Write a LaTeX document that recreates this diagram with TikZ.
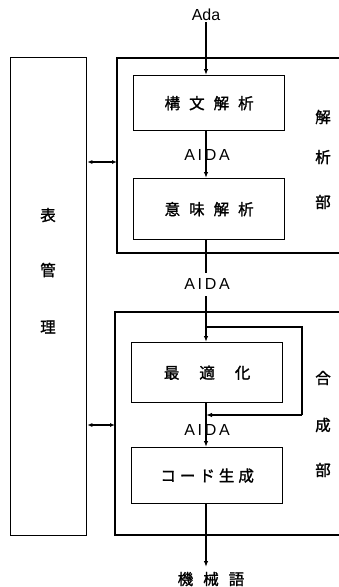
\documentclass[tikz,border=0pt]{standalone}
\usepackage{fontspec}
\setmainfont{Liberation Sans}
\newfontfamily\jp{Noto Sans CJK JP}[FakeBold=1.5]
\usetikzlibrary{arrows.meta}
\tikzset{
  x=1pt, y=-1pt,
  line/.style={line width=1.3pt},
  arr/.style={line, -{Latex[length=6pt,width=4.5pt]}},
  darr/.style={line, {Latex[length=5pt,width=4pt]}-{Latex[length=5pt,width=4pt]}},
  proc/.style={draw, line width=1.3pt, minimum width=151pt, inner sep=0pt, font=\jp\fontsize{15.5}{15.5}\selectfont},
  lat/.style={font=\fontsize{16}{16}\selectfont, inner sep=1pt},
  jpl/.style={font=\jp\fontsize{15.5}{15.5}\selectfont, inner sep=1pt},
}
\newcommand{\gp}{\hspace{9pt}}
\begin{document}
\begin{tikzpicture}
\useasboundingbox (0,0) rectangle (339,587);
% left box
\node[draw, line width=1.3pt, minimum width=76pt, minimum height=478pt, inner sep=0pt, anchor=north west] (tbl) at (10,57) {};
\node[jpl] (t1) at (48,215) {表};
\node[jpl] (t2) at (48,270) {管};
\node[jpl] (t3) at (48,327) {理};
% upper outer box
\draw[line] (339,58) -- (117,58) -- (117,253) -- (339,253);
\coordinate (ua) at (117,162);
% lower outer box
\draw[line] (339,312) -- (115,312) -- (115,535) -- (339,535);
\coordinate (la) at (115,425);
% process boxes
\node[proc, minimum height=55pt, anchor=north west] (b1) at (133,75) {構\gp 文\gp 解\gp 析};
\node[proc, minimum height=61pt, anchor=north west] (b2) at (133,178) {意\gp 味\gp 解\gp 析};
\node[proc, minimum height=60pt, anchor=north west] (b3) at (131,342) {最\hspace{20pt}適\hspace{20pt}化};
\node[proc, minimum height=56pt, anchor=north west] (b4) at (131,447) {コ\hspace{4pt}ー\hspace{4pt}ド\hspace{4pt}生\hspace{4pt}成};
% side labels
\node[jpl] at (323,117) {解};
\node[jpl] at (323,157) {析};
\node[jpl] at (323,202) {部};
\node[jpl] at (323,378) {合};
\node[jpl] at (323,425) {成};
\node[jpl] at (323,470) {部};
% texts
\node[lat] (ada) at (206,15) {Ada};
\node[lat] (aida1) at (207,155) {A\,I\,D\,A};
\node[lat] (aida2) at (207,284) {A\,I\,D\,A};
\node[lat] (aida3) at (207,430) {A\,I\,D\,A};
\node[jpl] (mc) at (211,579) {機\hspace{10pt}械\hspace{10pt}語};
% connectors
\draw[arr] (ada.south) -- (b1.north -| ada.south);
\draw[arr] (b1.south -| 206,0) -- (b2.north -| 206,0);
\draw[line] (b2.south -| 206,0) -- (206,273);
\draw[arr] (206,296) -- (b3.north -| 206,0);
\coordinate (br) at (206,327);
\coordinate (fb) at (302,415);
\draw[line] (br) -| (fb);
\draw[arr] (fb) -- (206,415);
\draw[arr] (b3.south -| 206,0) -- (b4.north -| 206,0);
\draw[arr] (b4.south -| 206,0) -- (206,567);
% table management connections
\draw[darr] (tbl.east |- ua) -- (ua);
\draw[darr] (tbl.east |- la) -- (la);
\end{tikzpicture}
\end{document}
